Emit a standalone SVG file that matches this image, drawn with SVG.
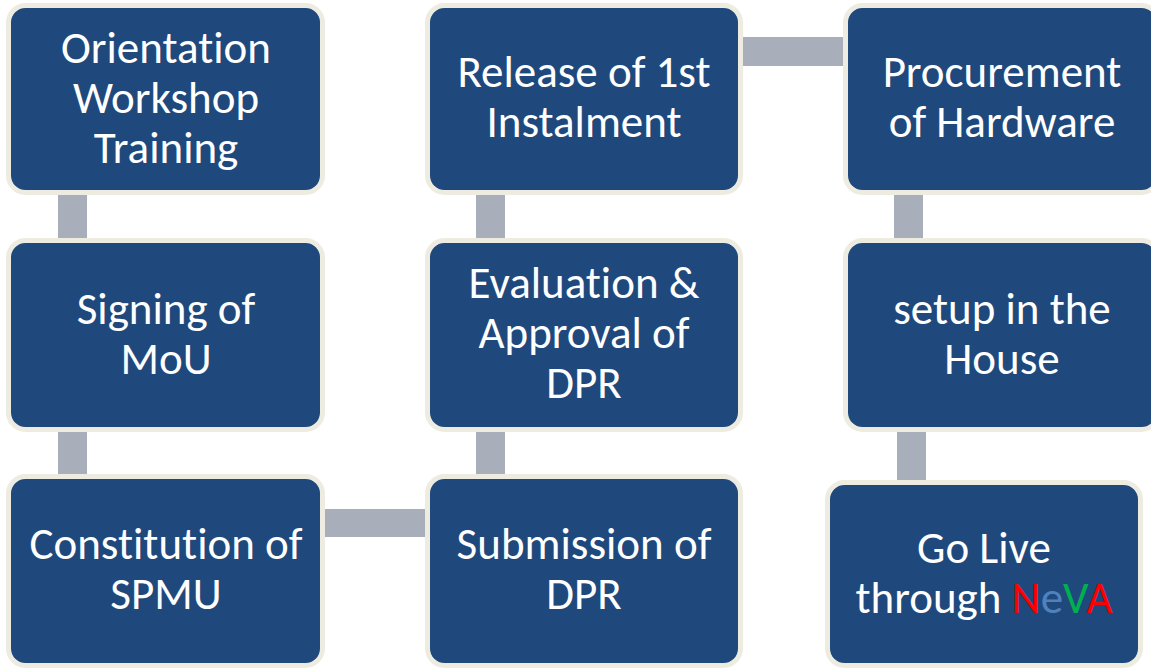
<svg xmlns="http://www.w3.org/2000/svg" width="1151" height="670" viewBox="0 0 1151 670">
<style>
.node rect{fill:#1F497D;stroke:#EEECE1;stroke-width:5}
.conn rect{fill:#A9AEBB}
text{font-family:Carlito,Calibri,Lato,"Open Sans",sans-serif;font-size:45px;fill:#FFFFFF;text-anchor:middle;font-variant-ligatures:none}
</style>
<rect width="1151" height="670" fill="#FFFFFF"/>
<g id="connectors" class="conn">
<rect x="58" y="190" width="29" height="55"/>
<rect x="58" y="425" width="29" height="55"/>
<rect x="320" y="509" width="110" height="28"/>
<rect x="476" y="425" width="29" height="55"/>
<rect x="476" y="190" width="29" height="55"/>
<rect x="738" y="37" width="110" height="29"/>
<rect x="894" y="190" width="29" height="55"/>
<rect x="897" y="425" width="29" height="60"/>
</g>
<g id="n-orientation" class="node">
<rect x="8.5" y="5.5" width="314" height="187" rx="17"/>
<text x="166" y="63">Orientation</text>
<text x="166" y="113">Workshop</text>
<text x="166" y="163">Training</text>
</g>
<g id="n-signing" class="node">
<rect x="8.5" y="240.5" width="314" height="189" rx="17"/>
<text x="166" y="324">Signing of</text>
<text x="166" y="374">MoU</text>
</g>
<g id="n-constitution" class="node">
<rect x="8.5" y="476.5" width="314" height="189" rx="17"/>
<text x="166" y="559">Constitution of</text>
<text x="166" y="609">SPMU</text>
</g>
<g id="n-submission" class="node">
<rect x="427.5" y="476.5" width="313" height="189" rx="17"/>
<text x="584" y="559">Submission of</text>
<text x="584" y="609">DPR</text>
</g>
<g id="n-evaluation" class="node">
<rect x="427.5" y="240.5" width="313" height="189" rx="17"/>
<text x="584" y="298">Evaluation &amp;</text>
<text x="584" y="348">Approval of</text>
<text x="584" y="398">DPR</text>
</g>
<g id="n-release" class="node">
<rect x="427.5" y="5.5" width="313" height="187" rx="17"/>
<text x="584" y="87">Release of 1st</text>
<text x="584" y="137">Instalment</text>
</g>
<g id="n-procurement" class="node">
<rect x="845.5" y="5.5" width="313" height="187" rx="17"/>
<text x="1002" y="87">Procurement</text>
<text x="1002" y="137">of Hardware</text>
</g>
<g id="n-setup" class="node">
<rect x="845.5" y="240.5" width="313" height="189" rx="17"/>
<text x="1002" y="324">setup in the</text>
<text x="1002" y="374">House</text>
</g>
<g id="n-golive" class="node">
<rect x="827.5" y="482.5" width="313" height="183" rx="17"/>
<text x="984" y="563">Go Live</text>
<text x="984" y="613">through <tspan fill="#FF0000">N</tspan><tspan fill="#4F81BD">e</tspan><tspan fill="#00B050">V</tspan><tspan fill="#FF0000">A</tspan></text>
</g>
</svg>
